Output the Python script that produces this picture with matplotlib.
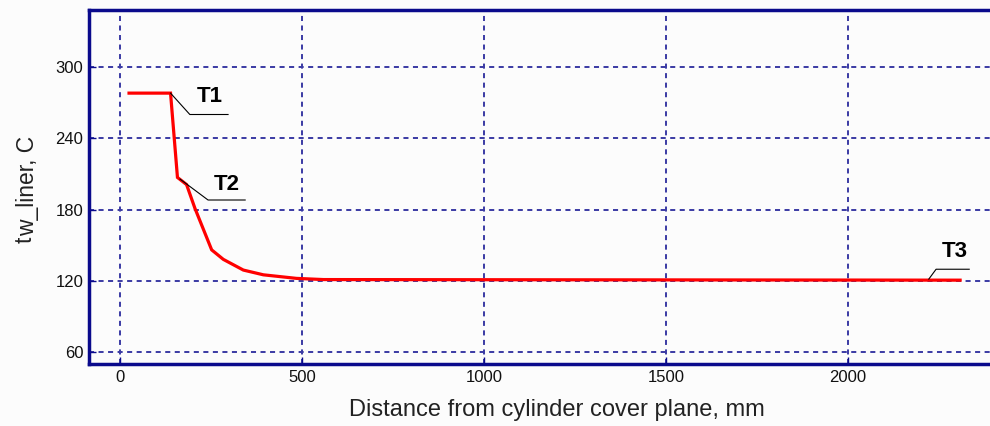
import matplotlib
matplotlib.use("Agg")
import matplotlib.pyplot as plt

plt.rcParams['font.family'] = ['Liberation Sans', 'DejaVu Sans']

# Data
distance_mm = [25, 139, 158, 183, 206, 252, 284, 339, 394, 485, 559, 2308]
t_w_liner = [278, 278, 207, 201, 181, 146, 138, 129, 125, 122, 121, 120.5]

x_ticks = [0, 500, 1000, 1500, 2000]
y_ticks = [60, 120, 180, 240, 300]

labels = ["T1", "T2", "T3"]
label_text_xy = [(247, 275), (293, 201), (2294, 145)]
leader_pts = [
    [(139, 278), (192, 260), (297, 260)],
    [(165, 205.6), (242, 188), (344, 188)],
    [(2222, 121.4), (2242, 129.7), (2333, 129.7)],
]

W, H = 990, 426
fig = plt.figure(figsize=(W / 100, H / 100), dpi=100)
fig.patch.set_facecolor('#fcfcfc')
left_px, right_px, top_px, bottom_px = 89, 1002, 10, 364
ax = fig.add_axes([left_px / W, 1 - bottom_px / H,
                   (right_px - left_px) / W, (bottom_px - top_px) / H])
ax.set_facecolor('#fcfcfc')

navy = '#0a0a8c'
ax.plot(distance_mm, t_w_liner, color='#ff0000', lw=2.3, zorder=3,
        solid_joinstyle='miter')

for pts, lab, txy in zip(leader_pts, labels, label_text_xy):
    xs, ys = zip(*pts)
    ax.plot(xs, ys, color='black', lw=0.8, zorder=4)
    ax.text(txy[0], txy[1], lab, ha='center', va='center',
            fontsize=16, fontweight='bold', color='black', zorder=5)

ax.set_xlim(-85, (right_px - 120) / 0.364)
ax.set_ylim(49.9, 348)
ax.set_xticks(x_ticks)
ax.set_yticks(y_ticks)
ax.grid(True, color='#3a3aa4', linestyle=(0, (2.6, 2.3)), lw=1.4)
for s in ax.spines.values():
    s.set_color(navy)
    s.set_linewidth(2.5)
ax.tick_params(direction='in', length=5, width=1, color=navy,
               labelsize=12, labelcolor='#111111', pad=4)

# x label
fig.text(557 / W, 1 - 410 / H, 'Distance from cylinder cover plane, mm',
         fontsize=17, color='#222222', ha='center', va='center')

# y label: "t" with "w_liner, C" slightly lowered
ylab_x = 32 / W
ylab_y0 = 243
fig.text(ylab_x, 1 - ylab_y0 / H, 't', fontsize=16.5, color='#222222',
         rotation=90, rotation_mode='anchor', ha='left', va='baseline')
fig.text(ylab_x + 2 / W, 1 - (ylab_y0 - 7) / H, 'w_liner, C', fontsize=16.5,
         color='#222222', rotation=90, rotation_mode='anchor',
         ha='left', va='baseline')

fig.savefig('out.png', dpi=100, facecolor=fig.get_facecolor())
